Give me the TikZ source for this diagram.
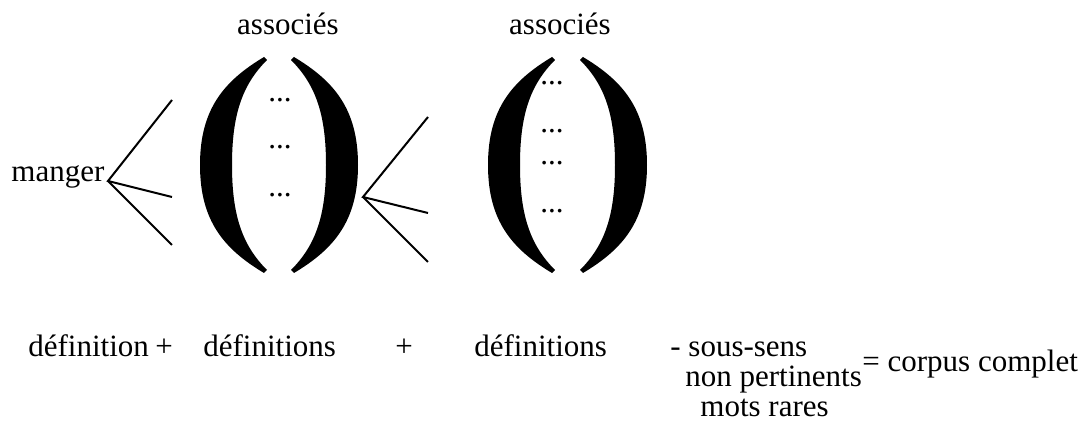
\documentclass[tikz,border=0pt]{standalone}
\usepackage{fontspec}
\setmainfont{Liberation Serif}
\tikzset{
  bigparen/.pic={
    \fill (64,-108) .. controls (24,-84) and (0,-56) .. (0,0)
      .. controls (0,56) and (24,84) .. (64,108) -- (67,105)
      .. controls (42,80) and (32,50) .. (32,0)
      .. controls (32,-50) and (42,-80) .. (67,-105) -- cycle;
  }
}
\begin{document}
\begin{tikzpicture}[x=0.5pt,y=-0.5pt,
  txt/.style={inner sep=0pt, font=\fontsize{15.5}{15.5}\selectfont},
  fork/.style={line width=1pt}]
\useasboundingbox (0,0) rectangle (1089,422);
% top part: word, first fork, first group
\node[txt, anchor=base west] (m) at (11,182) {manger};
\node[txt, anchor=base] (as1) at (288,35) {associés};
\pic at (200,165) {bigparen};
\pic[xscale=-1] at (358,165) {bigparen};
\node[txt, anchor=base] (d1a) at (280,102) {...};
\node[txt, anchor=base] (d1b) at (280,149) {...};
\node[txt, anchor=base] (d1c) at (280,197) {...};
\coordinate (v1) at (108,181);
\coordinate (e1a) at (172,100);
\coordinate (e1b) at (172,197);
\coordinate (e1c) at (172,245);
\draw[fork] (e1a) -- (v1) -- (e1b);
\draw[fork] (v1) -- (e1c);
% second fork and second group
\node[txt, anchor=base] (as2) at (560,35) {associés};
\pic at (488,165) {bigparen};
\pic[xscale=-1] at (647,165) {bigparen};
\node[txt, anchor=base] (d2a) at (552,85) {...};
\node[txt, anchor=base] (d2b) at (552,133) {...};
\node[txt, anchor=base] (d2c) at (552,165) {...};
\node[txt, anchor=base] (d2d) at (552,213) {...};
\coordinate (v2) at (363,197);
\coordinate (e2a) at (428,117);
\coordinate (e2b) at (428,213);
\coordinate (e2c) at (428,262);
\draw[fork] (e2a) -- (v2) -- (e2b);
\draw[fork] (v2) -- (e2c);
% bottom line
\node[txt, anchor=base west] (df1) at (28,357) {définition};
\node[txt, anchor=base] (p1) at (164,357) {+};
\node[txt, anchor=base west] (df2) at (203,357) {définitions};
\node[txt, anchor=base] (p2) at (404,357) {+};
\node[txt, anchor=base west] (df3) at (474,357) {définitions};
\node[txt, anchor=base west] (s1) at (670,357) {- sous-sens};
\node[txt, anchor=base west] (s2) at (685,387) {non pertinents};
\node[txt, anchor=base west] (s3) at (700,417) {mots rares};
\node[txt, anchor=base west] (eq) at (862,372) {= corpus complet};
\end{tikzpicture}
\end{document}
